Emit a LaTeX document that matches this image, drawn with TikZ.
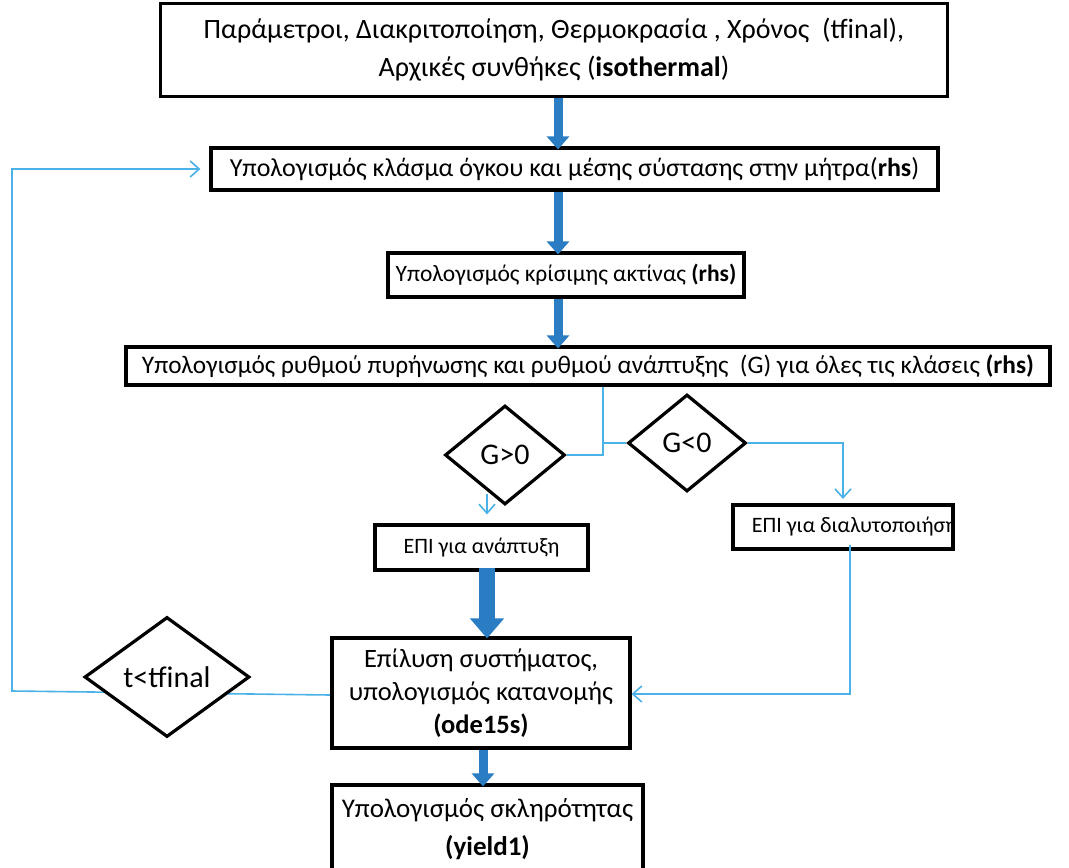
\documentclass[tikz,border=0pt]{standalone}
\usepackage{fontspec}
\setmainfont{Carlito}
\usetikzlibrary{shapes.geometric,arrows.meta}
\definecolor{lblue}{RGB}{75,178,232}
\definecolor{dblue}{RGB}{42,125,195}
\pgfdeclarelayer{bg}
\pgfsetlayers{bg,main}
\begin{document}
\begin{tikzpicture}[x=1pt,y=-1pt,
  box/.style={draw=black,line width=3.2pt,fill=white,inner sep=0pt,align=center},
  dec/.style={diamond,draw=black,line width=3.2pt,fill=white,inner sep=0pt,align=center},
  flow/.style={draw=lblue,line width=1.6pt},
  flowarr/.style={flow,-{Straight Barb[length=9pt,width=16pt]}},
  bigarr/.style={draw=dblue,line width=9pt,-{Triangle[length=13pt,width=22pt]}},
  hugearr/.style={draw=dblue,line width=16pt,-{Triangle[length=20pt,width=33pt]}},
  fTop/.style={font=\fontsize{28}{38}\selectfont},
  fA/.style={font=\fontsize{26}{36}\selectfont},
  fA2/.style={font=\fontsize{25.3}{36}\selectfont},
  fB/.style={font=\fontsize{23.5}{30}\selectfont},
  fS/.style={font=\fontsize{26.5}{33}\selectfont},
  fY/.style={font=\fontsize{27}{36}\selectfont},
  fE/.style={font=\fontsize{22}{28}\selectfont},
  fD/.style={font=\fontsize{30}{36}\selectfont}
]
\useasboundingbox (0,0) rectangle (1069,868);
\begin{pgfonlayer}{bg}
\fill[white] (0,0) rectangle (1069,868);
\end{pgfonlayer}

\node[box,fTop,minimum width=787,minimum height=93] (p) at (554,50)
  {Παράμετροι, Διακριτοποίηση, Θερμοκρασία , Χρόνος~ (tfinal),\\ Αρχικές συνθήκες (\textbf{isothermal})};
\node[box,fA,minimum width=727,minimum height=42] (b2) at (574.5,169)
  {Υπολογισμός κλάσμα όγκου και μέσης σύστασης στην μήτρα(\textbf{rhs})};
\node[box,fB,minimum width=356,minimum height=44] (b3) at (566,275)
  {Υπολογισμός κρίσιμης ακτίνας \textbf{(rhs)}};
\node[box,fA2,minimum width=924,minimum height=38] (b4) at (588,366)
  {Υπολογισμός ρυθμού πυρήνωσης και ρυθμού ανάπτυξης~ (G) για όλες τις κλάσεις \textbf{(rhs)}};

\node[dec,fD,minimum width=120,minimum height=99] (dpos) at (505,455) {G>0};
\node[dec,fD,minimum width=118,minimum height=97] (dneg) at (687,443) {G<0};

\node[box,fE,minimum width=213,minimum height=45] (e1) at (481.5,547.5) {ΕΠΙ για ανάπτυξη};
\node[box,minimum width=220,minimum height=44,
  path picture={\node[fE,anchor=west] at ([xshift=10pt]path picture bounding box.west) {ΕΠΙ για διαλυτοποιήση};}]
  (e2) at (843,527) {};

\node[box,fS,minimum width=298,minimum height=110] (solve) at (481,693)
  {Επίλυση συστήματος,\\ υπολογισμός κατανομής\\ \textbf{(ode15s)}};
\node[box,fY,minimum width=311,minimum height=88] (yield) at (487.5,829)
  {\raisebox{2pt}{Υπολογισμός σκληρότητας}\\ \textbf{(yield1)}};

\node[dec,fD,minimum width=165,minimum height=120] (tdec) at (167,677) {t<tfinal};

% thick arrows
\draw[bigarr] ([xshift=4pt]p.south) -- ([xshift=4pt,yshift=-3pt]p.south |- b2.north);
\draw[bigarr] ([xshift=-16.5pt]b2.south) -- ([xshift=-16.5pt,yshift=-3pt]b2.south |- b3.north);
\draw[bigarr] ([xshift=-8pt]b3.south) -- ([xshift=-8pt,yshift=-3pt]b3.south |- b4.north);
\draw[hugearr] ([xshift=5.5pt,yshift=4pt]e1.south) -- ([xshift=5.5pt,yshift=-2pt]e1.south |- solve.north);
\draw[bigarr] ([xshift=2pt]solve.south) -- ([xshift=2pt,yshift=-3pt]solve.south |- yield.north);

% thin connectors
\coordinate (j) at (603,443);
\draw[flow] (b4.south -| j) -- (j) -- (dneg.west);
\draw[flow] (j) |- (dpos.east);
\coordinate (c2) at (843,499);
\draw[flowarr] (dneg.east) -| (c2);
\coordinate (a1) at (487,494);
\draw[flowarr,shorten >=9pt] (a1) -- (a1 |- e1.north);
\draw[flowarr] ([xshift=7pt,yshift=6pt]e2.south) |- ([yshift=-1pt]solve.east);
\coordinate (lp) at (12,691);
\begin{pgfonlayer}{bg}
\draw[flowarr,shorten >=9pt] ([yshift=-2pt]solve.west) -- (lp) |- (b2.west);
\end{pgfonlayer}
\end{tikzpicture}
\end{document}
